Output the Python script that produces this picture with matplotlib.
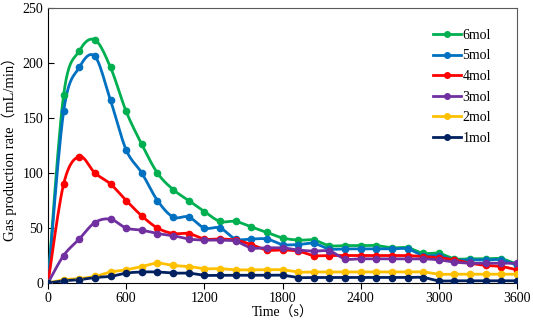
import numpy as np
import matplotlib
matplotlib.use("Agg")
import matplotlib.pyplot as plt

plt.rcParams['font.family'] = ['Liberation Serif', 'Noto Sans CJK SC']

# time axis (s), one sample every 120 s
time_s = list(range(0, 3601, 120))

labels = ["6mol", "5mol", "4mol", "3mol", "2mol", "1mol"]
colors = ["#00B050", "#0070C0", "#FF0000", "#7030A0", "#FFC000", "#002060"]

rate_6mol = [0, 171, 211, 221, 196, 156, 126, 100, 85, 75, 65, 56, 56, 51, 46, 41,
             39, 39, 34, 34, 34, 34, 32, 32, 27, 27, 22, 22, 22, 22, 17]
rate_5mol = [0, 156, 196, 206, 166, 121, 100, 75, 60, 60, 50, 50, 40, 40, 40, 35,
             35, 36, 31, 31, 31, 31, 31, 31, 25, 25, 21, 21, 21, 21, 16]
rate_4mol = [0, 90, 115, 100, 90, 75, 61, 50, 45, 45, 40, 40, 39, 35, 30, 30,
             29, 25, 25, 25, 25, 25, 25, 25, 24, 23, 21, 18, 16, 15, 12]
rate_3mol = [0, 25, 40, 55, 58, 50, 48, 45, 43, 40, 39, 39, 38, 32, 32, 32,
             30, 29, 29, 22, 22, 22, 22, 22, 22, 21, 19, 18, 18, 18, 18]
rate_2mol = [0, 3, 4, 6, 10, 12, 15, 18, 16, 15, 13, 13, 12, 12, 12, 12,
             10, 10, 10, 10, 10, 10, 10, 10, 10, 8, 8, 8, 8, 8, 8]
rate_1mol = [0, 2, 3, 5, 6, 9, 10, 10, 9, 9, 7, 7, 7, 7, 7, 7,
             5, 5, 5, 5, 5, 5, 5, 5, 5, 2, 2, 2, 2, 2, 2]

series = [rate_6mol, rate_5mol, rate_4mol, rate_3mol, rate_2mol, rate_1mol]


def smooth(x, y, steps=12):
    # Catmull-Rom style smoothing, like Excel's smoothed line
    x = np.asarray(x, float)
    y = np.asarray(y, float)
    px = np.concatenate([[x[0]], x, [x[-1]]])
    py = np.concatenate([[y[0]], y, [y[-1]]])
    xs, ys = [], []
    t = np.linspace(0, 1, steps, endpoint=False)
    for i in range(1, len(px) - 2):
        p0, p1, p2, p3 = (np.array([px[j], py[j]]) for j in range(i - 1, i + 3))
        c1 = p1 + (p2 - p0) / 6
        c2 = p2 - (p3 - p1) / 6
        for tt in t:
            b = ((1 - tt) ** 3 * p1 + 3 * (1 - tt) ** 2 * tt * c1
                 + 3 * (1 - tt) * tt ** 2 * c2 + tt ** 3 * p2)
            xs.append(b[0])
            ys.append(b[1])
    xs.append(x[-1])
    ys.append(y[-1])
    return xs, ys


fig = plt.figure(figsize=(5.33, 3.21), dpi=100)
ax = fig.add_axes([48 / 533, 38 / 321, 469 / 533, 275 / 321])

for lab, col, vals in zip(labels, colors, series):
    sx, sy = smooth(time_s, vals)
    ax.plot(sx, sy, color=col, linewidth=2, zorder=3)
    ax.plot(time_s, vals, 'o', color=col, markersize=4.5, zorder=4)
    ax.plot([], [], '-o', color=col, linewidth=2, markersize=4, label=lab)

ax.set_xlim(0, 3600)
ax.set_ylim(0, 250)
ax.set_xticks(range(0, 3601, 600))
ax.set_yticks(range(0, 251, 50))
ax.tick_params(axis='x', direction='out', length=4, labelsize=10, pad=2.5)
ax.tick_params(axis='y', direction='in', length=4, labelsize=10)
ax.set_xlabel("Time（s）", fontsize=10, labelpad=1)
ax.set_ylabel("Gas production rate（mL/min）", fontsize=10.5, labelpad=4)
for side in ['top', 'right']:
    ax.spines[side].set_color('#595959')

ax.legend(loc='upper right', frameon=False, fontsize=10, handlelength=2.0,
          handletextpad=0.1, labelspacing=0.55, borderaxespad=0.8,
          bbox_to_anchor=(0.98, 0.985))

fig.savefig("out.png", dpi=100)
